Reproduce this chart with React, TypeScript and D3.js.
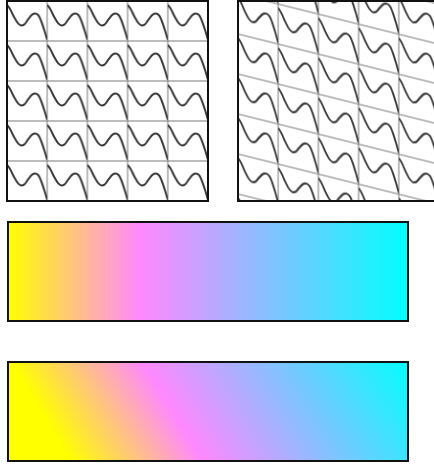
import React from 'react';
import * as d3 from 'd3';

// wave sample inside one pattern tile (fractions of the tile)
const waveX = [0, 0.075, 0.175, 0.275, 0.35, 0.425, 0.525, 0.625, 0.7, 0.775, 0.85, 0.925, 1];
const waveY = [0.1, 0.2, 0.4, 0.56, 0.61, 0.59, 0.46, 0.34, 0.31, 0.35, 0.5, 0.72, 0.97];

// gradient stops
const stopOffsets = [0, 0.33, 1];
const stopColors = ['#ffff00', '#ff88ff', '#00ffff'];

// panels
const cols = 5;
const rows = 5;

export default function App() {
  const W = 434, H = 465;
  const panelW = 201, panelH = 200;
  const tileW = panelW / cols, tileH = panelH / rows;
  const sx = d3.scaleLinear().domain([0, 1]).range([0, tileW]);
  const sy = d3.scaleLinear().domain([0, 1]).range([0, tileH]);
  const pts: [number, number][] = waveX.map((x, i) => [sx(x), sy(waveY[i])]);
  const wavePath = d3.line().curve(d3.curveCatmullRom.alpha(0.5))(pts) || '';

  const skewYdeg = (Math.atan(0.25) * 180) / Math.PI;
  const skewXdeg = 31.5;
  const gx = d3.scaleLinear().domain([0, 1]).range([8, 408]);

  const tileContent = (
    <>
      <line x1={0} y1={0} x2={tileW} y2={0} stroke="#7a7a7a" strokeWidth={1} />
      <line x1={0} y1={tileH} x2={tileW} y2={tileH} stroke="#7a7a7a" strokeWidth={1} />
      <line x1={0} y1={0} x2={0} y2={tileH} stroke="#7a7a7a" strokeWidth={1} />
      <line x1={tileW} y1={0} x2={tileW} y2={tileH} stroke="#7a7a7a" strokeWidth={1} />
      <path d={wavePath} fill="none" stroke="#3a3a3a" strokeWidth={2} />
    </>
  );

  const stops = stopOffsets.map((o, i) => (
    <stop key={i} offset={o} stopColor={stopColors[i]} />
  ));

  return (
    <svg width={W} height={H} style={{ position: 'absolute', left: 0, top: 0, background: '#fff' }}>
      <defs>
        <pattern id="pat1" patternUnits="userSpaceOnUse" x={7} y={1} width={tileW} height={tileH}>
          {tileContent}
        </pattern>
        <pattern id="pat2" patternUnits="userSpaceOnUse" x={0} y={0} width={tileW} height={tileH}
          patternTransform={`translate(238,34) skewY(${skewYdeg})`}>
          {tileContent}
        </pattern>
        <linearGradient id="grad1" gradientUnits="userSpaceOnUse" x1={gx(0)} y1={0} x2={gx(1)} y2={0}>
          {stops}
        </linearGradient>
        <linearGradient id="grad2" gradientUnits="userSpaceOnUse" x1={gx(0)} y1={0} x2={gx(1)} y2={0}
          gradientTransform={`translate(0,358) skewX(${skewXdeg}) translate(0,-358)`}>
          {stops}
        </linearGradient>
      </defs>
      <rect x={7} y={1} width={panelW} height={panelH} fill="url(#pat1)" stroke="#111" strokeWidth={2} />
      <rect x={238} y={1} width={panelW} height={panelH} fill="url(#pat2)" stroke="#111" strokeWidth={2} />
      <rect x={8} y={222} width={400} height={99} fill="url(#grad1)" stroke="#111" strokeWidth={2} />
      <rect x={8} y={362} width={400} height={99} fill="url(#grad2)" stroke="#111" strokeWidth={2} />
    </svg>
  );
}
